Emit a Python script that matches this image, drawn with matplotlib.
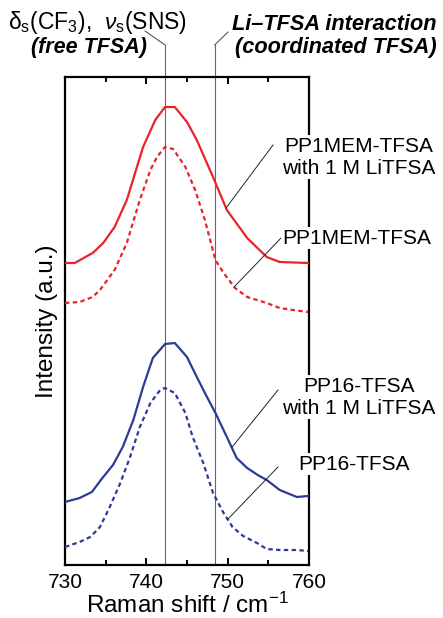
import numpy as np
import matplotlib
matplotlib.use("Agg")
import matplotlib.pyplot as plt

plt.rcParams['font.family'] = ['Liberation Sans', 'DejaVu Sans']
plt.rcParams['mathtext.fontset'] = 'custom'
plt.rcParams['mathtext.rm'] = 'Liberation Sans'
plt.rcParams['mathtext.it'] = 'Liberation Sans:italic'
plt.rcParams['mathtext.bf'] = 'Liberation Sans:bold'

# ---- data (Raman shift in cm-1, intensity in a.u.) ----
x_mem_li = [730.0, 731.2, 733.4, 734.7, 736.1, 737.6, 739.6, 741.1, 742.3, 743.5,
            745.0, 746.2, 748.2, 749.9, 752.4, 754.8, 756.4, 759.9]
y_mem_li = [3.02, 3.02, 3.12, 3.22, 3.38, 3.65, 4.18, 4.45, 4.58, 4.58,
            4.43, 4.25, 3.88, 3.55, 3.27, 3.08, 3.03, 3.02]

x_mem = [730.0, 731.8, 733.4, 734.3, 736.1, 737.6, 739.2, 740.5, 741.3, 742.3,
         743.3, 744.8, 746.0, 747.2, 748.5, 749.5, 750.9, 752.4, 754.8, 756.4,
         758.0, 759.9]
y_mem = [2.62, 2.63, 2.68, 2.75, 2.95, 3.22, 3.65, 3.95, 4.08, 4.18,
         4.16, 3.98, 3.75, 3.45, 3.05, 2.92, 2.77, 2.68, 2.62, 2.57,
         2.55, 2.53]

x_pp16_li = [730.0, 731.8, 733.3, 734.6, 735.9, 737.1, 738.4, 739.6, 740.8, 742.3,
             743.5, 745.0, 745.9, 747.2, 748.5, 749.9, 751.1, 752.4, 753.7, 754.8,
             756.4, 758.5, 759.9]
y_pp16_li = [0.63, 0.67, 0.73, 0.87, 1.00, 1.18, 1.45, 1.78, 2.07, 2.21,
             2.22, 2.08, 1.93, 1.72, 1.52, 1.28, 1.07, 0.97, 0.90, 0.85,
             0.75, 0.68, 0.69]

x_pp16 = [730.0, 731.8, 733.1, 734.3, 735.5, 736.8, 738.0, 739.2, 740.5, 741.7,
          742.3, 743.5, 744.8, 745.7, 747.0, 748.2, 749.5, 750.6, 751.9, 753.6,
          754.8, 756.4, 758.5, 759.9]
y_pp16 = [0.18, 0.23, 0.28, 0.38, 0.58, 0.82, 1.08, 1.38, 1.62, 1.75,
          1.77, 1.72, 1.52, 1.28, 1.02, 0.72, 0.52, 0.38, 0.29, 0.22,
          0.16, 0.15, 0.15, 0.14]

vlines = [742.3, 748.4]
xticks_major = [730, 740, 750, 760]
xticks_minor = [735, 745, 755]

red = '#e8232a'
blue = '#2b3b97'

W, H = 443, 618
fig = plt.figure(figsize=(W / 100, H / 100), dpi=100)
L, R, T, B = 65, 309, 77, 565
ax = fig.add_axes([L / W, 1 - B / H, (R - L) / W, (B - T) / H])
ax.set_xlim(730, 760)
ax.set_ylim(0, 4.88)

def px2data(px, py):
    return 730 + (px - L) / (R - L) * 30, (B - py) / (B - T) * 4.88

def fig_frac(px, py):
    return px / W, 1 - py / H

dash = (0, (2.0, 1.5))
ax.plot(x_mem_li, y_mem_li, color=red, lw=1.6, zorder=3)
ax.plot(x_mem, y_mem, color=red, lw=1.6, ls=dash, zorder=3)
ax.plot(x_pp16_li, y_pp16_li, color=blue, lw=1.6, zorder=3)
ax.plot(x_pp16, y_pp16, color=blue, lw=1.6, ls=dash, zorder=3)

# vertical reference lines extending above the axes
top_y = px2data(0, 45)[1]
for xv in vlines:
    ax.plot([xv, xv], [0, top_y], color='#666666', lw=0.8, clip_on=False, zorder=2)

# leader lines for the top labels
for (x0, y0), xv in [((145, 31), vlines[0]), ((228, 32), vlines[1])]:
    dx, dy = px2data(x0, y0)
    ax.plot([dx, xv], [dy, top_y], color='#444444', lw=0.7, clip_on=False)

for s in ax.spines.values():
    s.set_linewidth(1.6)
ax.set_xticks(xticks_major)
ax.set_xticks(xticks_minor, minor=True)
ax.set_yticks([])
ax.tick_params(axis='x', which='both', direction='in', top=True, bottom=True,
               width=1.4, labelsize=15, pad=6)
ax.tick_params(axis='x', which='major', length=5)
ax.tick_params(axis='x', which='minor', length=3.5)
ax.set_xlabel('Raman shift / cm$^{-1}$', fontsize=17.5, labelpad=0)
ax.set_ylabel('Intensity (a.u.)', fontsize=17.5, labelpad=5)

# curve labels with leader lines
labels = [
    ('PP1MEM-TFSA\nwith 1 M LiTFSA', (359, 157), (x_mem_li, y_mem_li), 749.8, (273, 145)),
    ('PP1MEM-TFSA', (357, 238), (x_mem, y_mem), 750.8, (282, 237)),
    ('PP16-TFSA\nwith 1 M LiTFSA', (359, 397), (x_pp16_li, y_pp16_li), 750.5, (278, 390)),
    ('PP16-TFSA', (354, 464), (x_pp16, y_pp16), 750.0, (278, 467)),
]
for txt, (tx, ty), (cx, cy), xs, (ex, ey) in labels:
    fig.text(*fig_frac(tx, ty), txt, fontsize=15, ha='center', va='center',
             multialignment='center', linespacing=1.2,
             bbox=dict(facecolor='white', edgecolor='none', pad=1.0), zorder=5)
    ys = np.interp(xs, cx, cy)
    exd, eyd = px2data(ex, ey)
    ax.plot([xs, exd], [ys, eyd], color='#222222', lw=0.7, clip_on=False, zorder=4)

# top annotations
fig.text(*fig_frac(8, 22),
         r'$\mathrm{\delta}_{\mathrm{s}}$(CF$_3$),  $\nu_{\mathrm{s}}$(SNS)',
         fontsize=16.5, ha='left', va='center')
fig.text(*fig_frac(89, 47), '(free TFSA)', fontsize=15.5, ha='center', va='center',
         fontweight='bold', fontstyle='italic')
fig.text(*fig_frac(437, 24), 'Li\u2013TFSA interaction', fontsize=15.7, ha='right',
         va='center', fontweight='bold', fontstyle='italic')
fig.text(*fig_frac(437, 47), '(coordinated TFSA)', fontsize=15.7, ha='right',
         va='center', fontweight='bold', fontstyle='italic')

fig.savefig('out.png', dpi=100)
